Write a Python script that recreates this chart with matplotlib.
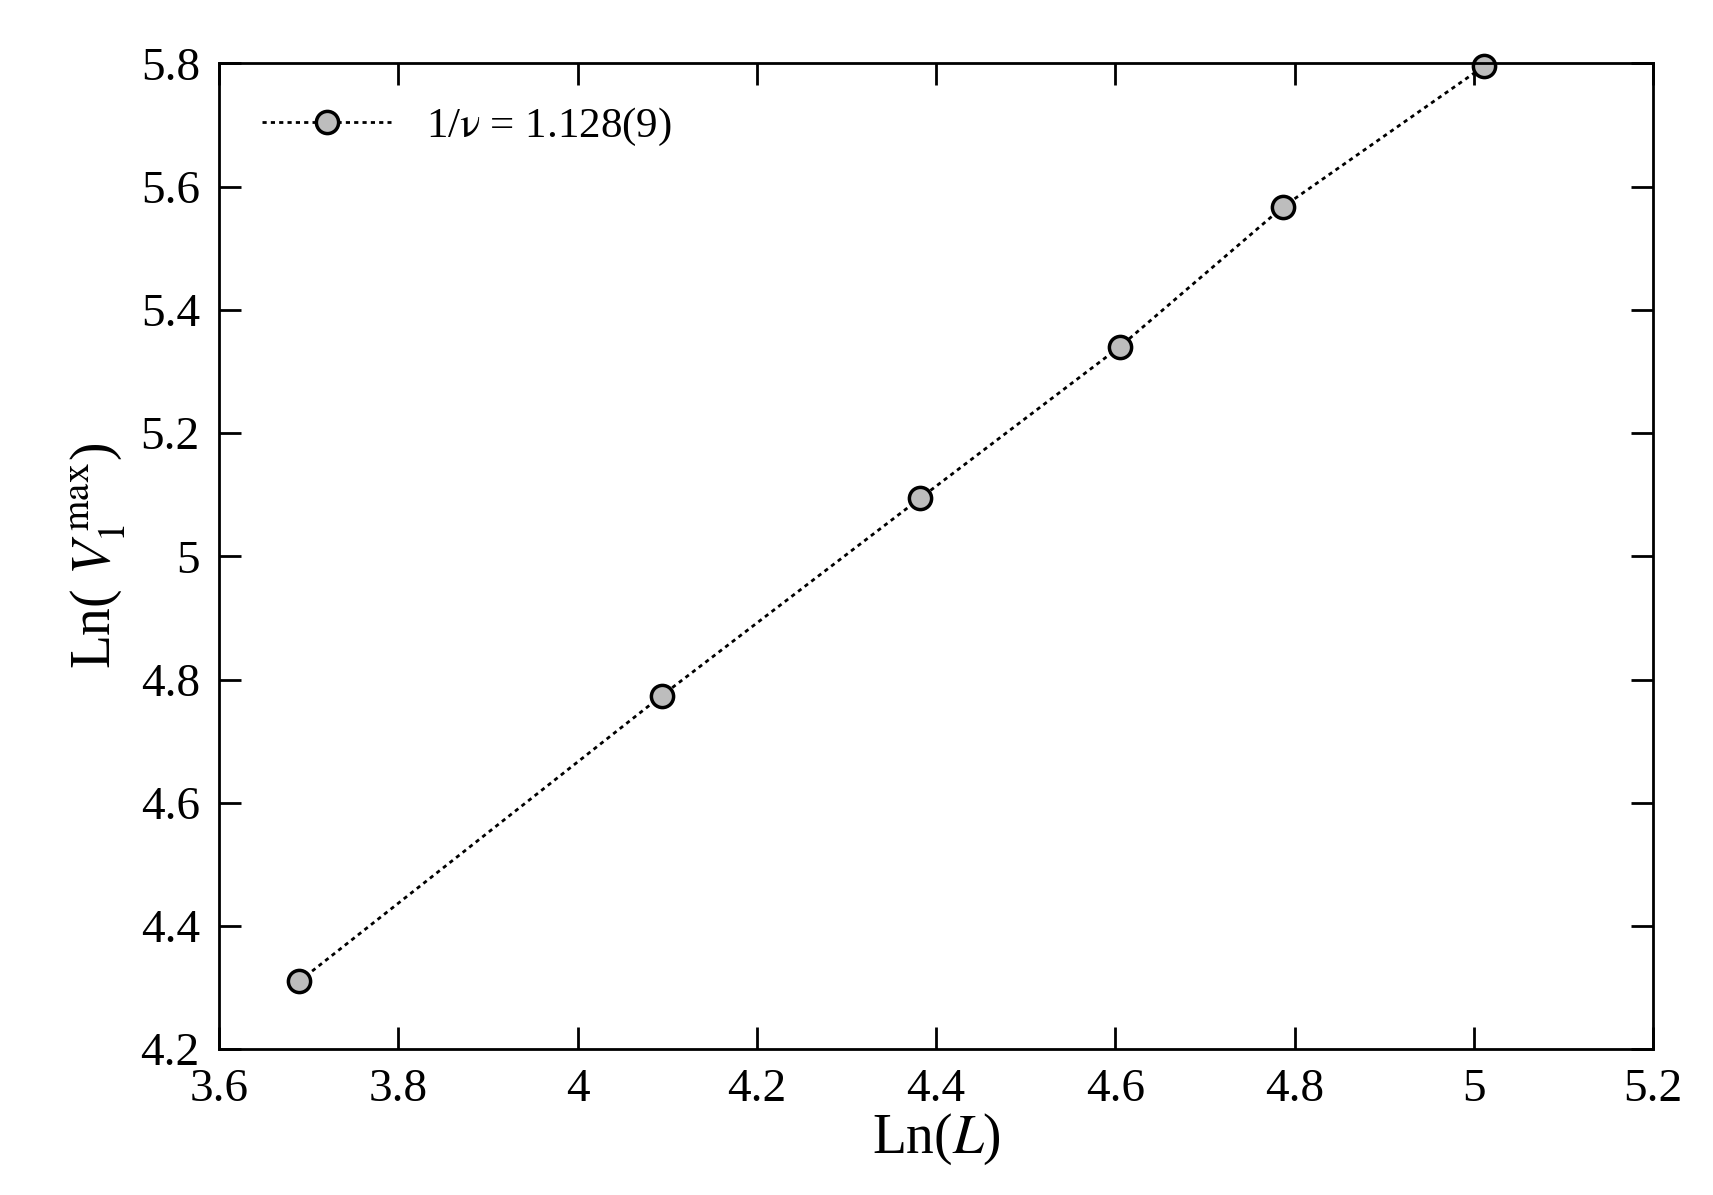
import matplotlib
matplotlib.use("Agg")
import matplotlib.pyplot as plt

# Data
ln_L = [3.689, 4.094, 4.382, 4.605, 4.787, 5.011]
ln_V = [4.310, 4.774, 5.094, 5.340, 5.567, 5.795]

plt.rcParams["font.family"] = ["Liberation Serif", "DejaVu Serif"]
plt.rcParams["mathtext.fontset"] = "stix"

fig = plt.figure(figsize=(17.13, 11.95), dpi=100)
ax = fig.add_axes([0.128, 0.122, 0.837, 0.825])

ax.plot(ln_L, ln_V, linestyle=(0, (1.5, 1.5)), color="black", linewidth=2,
        marker="o", markersize=16, markerfacecolor="#bdbdbd",
        markeredgecolor="black", markeredgewidth=2.5, clip_on=False,
        label=r"1/$\mathrm{\nu}$ = 1.128(9)")

ax.set_xlim(3.6, 5.2)
ax.set_ylim(4.2, 5.8)
ax.set_xticks([3.6, 3.8, 4.0, 4.2, 4.4, 4.6, 4.8, 5.0, 5.2])
ax.set_xticklabels(["3.6", "3.8", "4", "4.2", "4.4", "4.6", "4.8", "5", "5.2"])
ax.set_yticks([4.2, 4.4, 4.6, 4.8, 5.0, 5.2, 5.4, 5.6, 5.8])
ax.set_yticklabels(["4.2", "4.4", "4.6", "4.8", "5", "5.2", "5.4", "5.6", "5.8"])
ax.tick_params(direction="in", top=True, right=True, length=16, width=2,
               labelsize=34, pad=14)
for s in ax.spines.values():
    s.set_linewidth(2)

ax.set_xlabel(r"Ln($L$)", fontsize=40, labelpad=0)
ax.set_ylabel(r"Ln( $V_1^{\,\mathrm{max}}$)", fontsize=40, labelpad=10)

ax.legend(loc="upper left", frameon=False, fontsize=31, handlelength=3.0,
          borderaxespad=0.6)

fig.savefig("out.png", dpi=100)
